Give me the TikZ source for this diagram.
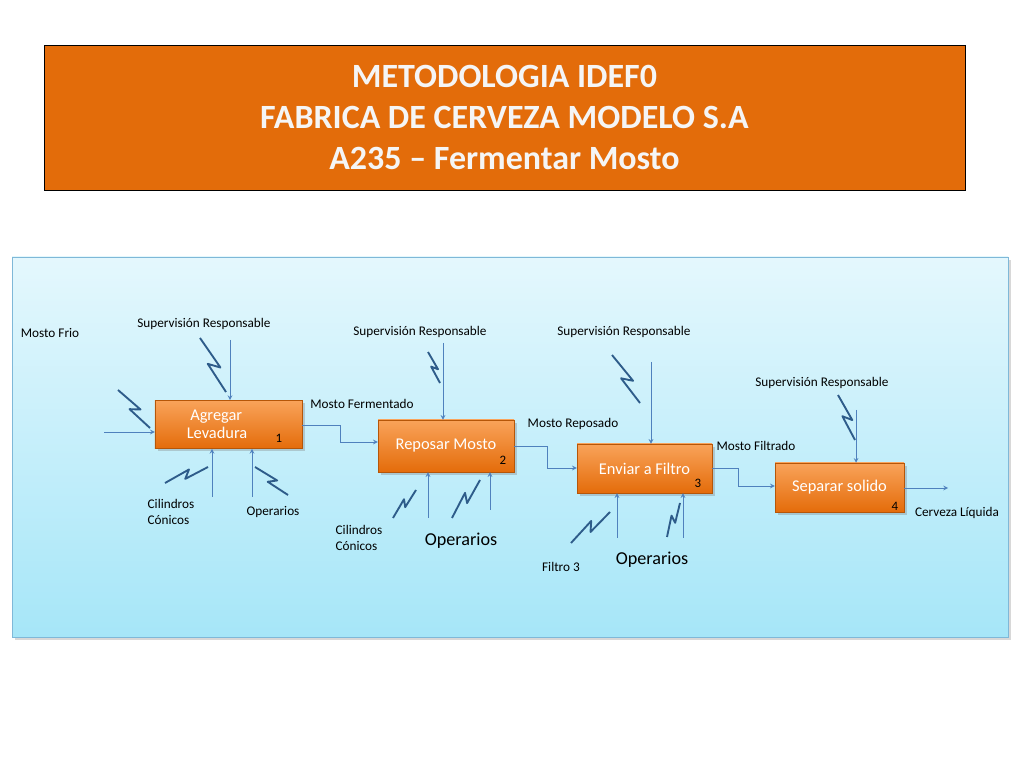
\documentclass[tikz,border=0pt]{standalone}
\usepackage{fontspec}
\setmainfont{Carlito}
\usetikzlibrary{calc, shadows}

\definecolor{titleorange}{HTML}{E36C0A}
\definecolor{boxtop}{HTML}{F9A35A}
\definecolor{boxbot}{HTML}{E46C0A}
\definecolor{panelfill}{HTML}{A6E6F8}
\definecolor{panelline}{HTML}{7FB8D8}
\definecolor{arrowblue}{HTML}{4F81BD}
\definecolor{boltblue}{HTML}{2E5C8A}

\tikzset{
	actbox/.style = {draw=boxbot!80!black, top color=boxtop, bottom color=boxbot, text=white,
		minimum width=#1, minimum height=1.45cm, inner sep=0, font=\fontsize{14}{15}\selectfont,
		align=center, drop shadow={opacity=0.35}},
	flow/.style = {draw=arrowblue, line width=0.8pt, ->, >=stealth},
	bolt/.style = {draw=boltblue, line width=1.6pt, line join=round},
	lbl/.style = {font=\fontsize{11.3}{13}\selectfont, align=left},
	biglbl/.style = {font=\fontsize{15.5}{17}\selectfont},
	num/.style = {font=\fontsize{11}{12}\selectfont}
}
\newcommand{\zig}[2]{\path[bolt] (#1) -- ($(#1)!0.6!9:(#2)$) -- ($(#1)!0.45!-9:(#2)$) -- (#2);}

\begin{document}
\begin{tikzpicture}[x=0.03cm, y=-0.03cm]
	\useasboundingbox (0,0) rectangle (1024,768);
	\fill[white] (0,0) rectangle (1024,768);

	% title
	\node[draw=black, fill=titleorange, minimum width=921*0.03cm, minimum height=145*0.03cm,
		font=\bfseries\fontsize{29}{35}\selectfont, text=white!92!gray, align=center] (title) at (504.5,117.5)
		{METODOLOGIA IDEF0\\FABRICA DE CERVEZA MODELO S.A\\A235 -- Fermentar Mosto};

	% panel
	\path[draw=panelline, top color=panelfill!30, bottom color=panelfill, drop shadow={opacity=0.3}]
		(12,257) rectangle (1008,637);

	% activities
	\node[actbox=4.41cm] (a1) at (228.5,424.5) {Agregar\hspace*{1.5em}\\Levadura\hspace*{1.4em}};
	\node[actbox=4.08cm, minimum height=1.56cm] (a2) at (446,446) {Reposar Mosto};
	\node[actbox=4.05cm, minimum height=1.47cm] (a3) at (644.5,468.5) {Enviar a Filtro};
	\node[actbox=3.87cm, minimum height=1.47cm] (a4) at (839.5,487.5) {Separar solido};
	\node[num] (n1) at (279,438) {1};
	\node[num] (n2) at (503,460) {2};
	\node[num] (n3) at (698,483) {3};
	\node[num] (n4) at (895,506) {4};

	% texts
	\node[lbl] (mfrio) at (50,333) {Mosto Frio};
	\node[lbl] (sup1) at (204,324) {Supervisión Responsable};
	\node[lbl] (sup2) at (420,332) {Supervisión Responsable};
	\node[lbl] (sup3) at (624,332) {Supervisión Responsable};
	\node[lbl] (sup4) at (822,383) {Supervisión Responsable};
	\node[lbl] (cil1) at (171,512) {Cilindros\\Cónicos};
	\node[lbl] (op1) at (273,512) {Operarios};
	\node[lbl] (cil2) at (359,538) {Cilindros\\Cónicos};
	\node[biglbl] (op2) at (461,541) {Operarios};
	\node[lbl] (fil3) at (561,567) {Filtro 3};
	\node[biglbl] (op3) at (652,560) {Operarios};
	\node[lbl] (mferm) at (362,404) {Mosto Fermentado};
	\node[lbl] (mrep) at (573,424) {Mosto Reposado};
	\node[lbl] (mfil) at (756,446) {Mosto Filtrado};
	\node[lbl] (cerv) at (957,513) {Cerveza Líquida};

	% free ends
	\coordinate (in1) at (104,432);
	\coordinate (c1) at (230,340);
	\coordinate (c2) at (443,343);
	\coordinate (c3) at (651,362);
	\coordinate (c4) at (856,410);
	\coordinate (m1a) at (212,497);
	\coordinate (m1b) at (252,497);
	\coordinate (m2a) at (428,518);
	\coordinate (m2b) at (490,510);
	\coordinate (m3a) at (617,538);
	\coordinate (m3b) at (683,538);
	\coordinate (out4) at (948,488);

	% arrows
	\draw[flow] (in1) -- (in1 -| a1.west);
	\draw[flow] (c1) -- (c1 |- a1.north);
	\draw[flow] (c2) -- (c2 |- a2.north);
	\draw[flow] (c3) -- (c3 |- a3.north);
	\draw[flow] (c4) -- (c4 |- a4.north);
	\draw[flow] (m1a) -- (m1a |- a1.south);
	\draw[flow] (m1b) -- (m1b |- a1.south);
	\draw[flow] (m2a) -- (m2a |- a2.south);
	\draw[flow] (m2b) -- (m2b |- a2.south);
	\draw[flow] (m3a) -- (m3a |- a3.south);
	\draw[flow] (m3b) -- (m3b |- a3.south);
	\draw[flow] (a1.east |- 0,425) -- (340,425) -- (340,442) -- (a2.west |- 0,442);
	\draw[flow] (a2.east |- 0,446) -- (547,446) -- (547,468) -- (a3.west |- 0,468);
	\draw[flow] (a3.east |- 0,468) -- (738,468) -- (738,486) -- (a4.west |- 0,486);
	\draw[flow] (a4.east |- out4) -- (out4);

	% bolts
	\zig{118,390}{150,428}
	\zig{200,338}{226,392}
	\zig{165,483}{208,467}
	\zig{255,467}{288,495}
	\zig{428,352}{440,383}
	\zig{393,518}{416,490}
	\zig{452,518}{480,480}
	\zig{612,355}{640,403}
	\zig{571,543}{610,512}
	\zig{667,537}{680,503}
	\zig{838,395}{855,440}
\end{tikzpicture}
\end{document}
